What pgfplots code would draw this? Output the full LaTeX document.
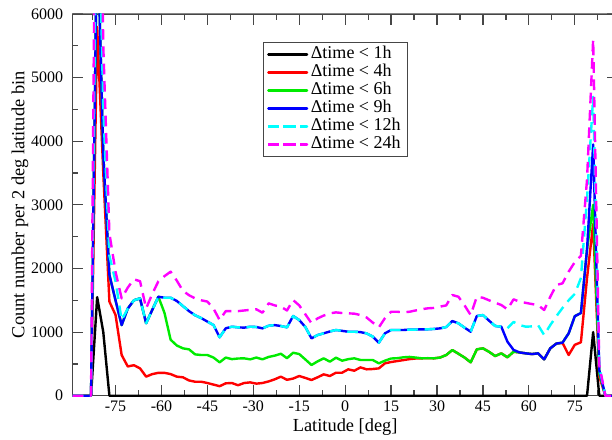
\documentclass[border=0pt]{standalone}
\usepackage{fontspec}
\setmainfont{Liberation Serif}
\usepackage{pgfplots}
\usepackage{pgfplotstable}
\pgfplotsset{compat=1.18}
\definecolor{cgreen}{RGB}{0,235,0}
\definecolor{cblue}{RGB}{0,0,255}
\definecolor{ccyan}{RGB}{0,255,255}
\definecolor{cmag}{RGB}{255,0,255}
\definecolor{cred}{RGB}{255,0,0}
\definecolor{frame}{RGB}{70,70,70}

% lat  <1h  <4h  <6h  <9h  <12h  <24h
\pgfplotstableread{
lat t1 t4 t6 t9 t12 t24
-89 0 0 0 0 0 0
-87 0 0 0 0 0 0
-85 0 0 0 0 0 0
-83 0 0 0 0 0 0
-81 1550 5800 7500 7500 9000 12000
-79 1000 3500 3800 3800 4500 5500
-77 0 1480 1900 1900 2200 2550
-75 0 1270 1500 1500 1800 1950
-73 0 640 1110 1110 1190 1530
-71 0 460 1370 1370 1370 1700
-69 0 480 1500 1500 1500 1830
-67 0 430 1530 1530 1530 1800
-65 0 300 1140 1140 1140 1374
-63 0 340 1350 1350 1350 1600
-61 0 360 1556 1556 1556 1800
-59 0 360 1300 1540 1540 1880
-57 0 340 880 1540 1540 1950
-55 0 300 790 1490 1490 1810
-53 0 290 745 1410 1410 1650
-51 0 240 729 1330 1330 1580
-49 0 220 650 1265 1265 1530
-47 0 220 640 1220 1220 1500
-45 0 200 640 1165 1165 1480
-43 0 175 600 1111 1111 1370
-41 0 150 525 918 918 1190
-39 0 195 600 1060 1060 1330
-37 0 200 575 1085 1085 1330
-35 0 165 585 1075 1075 1330
-33 0 200 588 1070 1070 1340
-31 0 210 572 1085 1085 1350
-29 0 190 600 1080 1080 1358
-27 0 200 572 1059 1059 1305
-25 0 225 610 1100 1100 1452
-23 0 258 630 1110 1110 1420
-21 0 300 660 1096 1096 1400
-19 0 250 590 1075 1075 1340
-17 0 270 676 1253 1253 1504
-15 0 310 655 1190 1190 1420
-13 0 280 570 1080 1080 1280
-11 0 247 483 902 902 1140
-9 0 290 540 954 954 1216
-7 0 336 588 981 981 1260
-5 0 310 535 1010 1010 1295
-3 0 362 598 1033 1033 1310
-1 0 362 551 1020 1020 1300
1 0 415 575 1006 1006 1295
3 0 393 588 1006 1006 1290
5 0 446 562 1000 1000 1268
7 0 415 562 980 980 1230
9 0 420 562 930 930 1150
11 0 430 509 833 833 1075
13 0 509 551 981 981 1220
15 0 530 585 1033 1033 1320
17 0 545 590 1033 1033 1320
19 0 560 604 1033 1033 1310
21 0 575 610 1040 1040 1320
23 0 585 600 1040 1040 1340
25 0 588 588 1044 1044 1360
27 0 590 590 1044 1044 1374
29 0 588 588 1050 1050 1380
31 0 600 600 1059 1059 1400
33 0 640 640 1080 1080 1420
35 0 718 718 1174 1174 1583
37 0 660 660 1138 1138 1556
39 0 600 600 1070 1070 1420
41 0 525 525 1006 1006 1268
43 0 729 729 1253 1253 1556
45 0 745 745 1268 1268 1540
47 0 690 690 1180 1180 1500
49 0 624 624 1096 1096 1462
51 0 666 666 1085 1085 1426
53 0 604 604 850 1060 1358
55 0 692 692 720 1160 1515
57 0 680 680 680 1111 1478
59 0 666 666 666 1085 1460
61 0 655 655 655 1090 1441
63 0 666 666 666 1111 1426
65 0 572 572 572 954 1347
67 0 745 745 745 1111 1556
69 0 820 820 820 1250 1740
71 0 830 835 835 1380 1767
73 0 640 980 980 1500 1950
75 0 800 1250 1250 1600 2100
77 0 840 1300 1300 1850 2200
79 0 1850 2300 2300 3100 3400
81 1000 2700 3000 3950 4700 5600
83 0 300 350 400 450 480
85 0 0 0 0 0 0
87 0 0 0 0 0 0
89 0 0 0 0 0 0
}\datatable

\begin{document}
\fontsize{12pt}{14pt}\selectfont
\begin{tikzpicture}
\begin{scope}
\clip (0,0) -- (459pt,0) -- (459pt,320pt) -- (54pt,320pt) -- (54pt,330pt) -- (0,330pt) -- cycle;
\begin{axis}[
  at={(54.5pt,33.2pt)}, anchor=south west,
  scale only axis, width=408.75pt, height=286.3pt,
  xmin=-89, xmax=89, ymin=0, ymax=6000,
  clip=false,
  xtick={-75,-60,...,75},
  minor xtick={-82.5,-67.5,...,82.5},
  ytick={0,1000,...,6000},
  minor ytick={500,1500,...,5500},
  major tick length=8pt, minor tick length=4.3pt,
  tick align=inside,
  axis line style={frame, line width=0.9pt},
  every tick/.style={frame, line width=0.9pt},
  scaled ticks=false,
  /pgf/number format/1000 sep={},
  /pgf/number format/assume math mode=true,
  tick label style={font=\fontsize{12pt}{14pt}\selectfont},
  yticklabel style={xshift=-3pt},
  xlabel={Latitude [deg]},
  ylabel={Count number per 2 deg latitude bin},
  label style={font=\fontsize{13.8pt}{15pt}\selectfont},
  xlabel style={at={(axis description cs:0.5,-0.082)}, anchor=center},
  ylabel style={at={(axis description cs:-0.0966,0.5)}, anchor=center},
  legend style={at={(0.3486,0.9274)}, anchor=north west, draw=frame, line width=0.8pt,
    font=\fontsize{13.5pt}{13.5pt}\selectfont, inner xsep=3pt, inner ysep=2.5pt,
    row sep=0pt,
    nodes={inner xsep=2pt, inner ysep=0pt, text height=9.75pt, text depth=3.75pt}},
  legend cell align=left,
  legend image code/.code={\path (0pt,0pt) rectangle (29pt,0pt);\draw[#1] (0pt,0pt) -- (24.5pt,0pt);},
  every axis plot/.append style={line width=1.8pt, line join=round},
]
\addplot[black] table[x=lat, y=t1] {\datatable};
\addlegendentry{Δtime < 1h}
\addplot[cred] table[x=lat, y=t4] {\datatable};
\addlegendentry{Δtime < 4h}
\addplot[cgreen] table[x=lat, y=t6] {\datatable};
\addlegendentry{Δtime < 6h}
\addplot[cblue] table[x=lat, y=t9] {\datatable};
\addlegendentry{Δtime < 9h}
\addplot[ccyan, dash pattern=on 8pt off 5pt] table[x=lat, y=t12] {\datatable};
\addlegendentry{Δtime < 12h}
\addplot[cmag, dash pattern=on 8pt off 5pt] table[x=lat, y=t24] {\datatable};
\addlegendentry{Δtime < 24h}
\end{axis}
\end{scope}
\pgfresetboundingbox
\useasboundingbox (0,0) rectangle (459pt,330pt);
\end{tikzpicture}
\end{document}
